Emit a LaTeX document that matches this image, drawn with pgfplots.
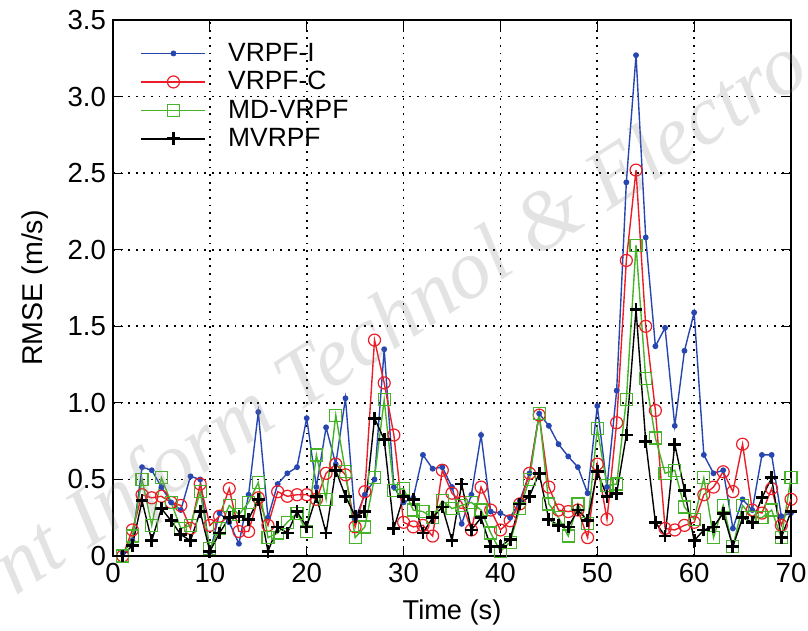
\documentclass[border=0pt]{standalone}
\usepackage{pgfplots}
\pgfplotsset{compat=1.18}
\usepackage{fontspec}
\setmainfont{Liberation Sans}
\newfontfamily\wmfont{Liberation Serif}
\definecolor{cblue}{RGB}{40,70,175}
\definecolor{cred}{RGB}{235,30,40}
\definecolor{cgreen}{RGB}{70,180,40}

\pgfplotstableread{
t blue red green black
1 0.02 0.00 0.00 0.00
2 0.10 0.17 0.13 0.07
3 0.58 0.40 0.50 0.36
4 0.56 0.38 0.20 0.10
5 0.45 0.39 0.51 0.31
6 0.35 0.35 0.35 0.23
7 0.30 0.33 0.18 0.14
8 0.52 0.18 0.20 0.10
9 0.50 0.47 0.42 0.29
10 0.02 0.20 0.05 0.03
11 0.28 0.26 0.18 0.15
12 0.22 0.44 0.33 0.25
13 0.08 0.16 0.27 0.26
14 0.40 0.16 0.35 0.24
15 0.94 0.38 0.48 0.37
16 0.25 0.20 0.12 0.03
17 0.47 0.42 0.15 0.19
18 0.54 0.39 0.22 0.15
19 0.58 0.40 0.28 0.29
20 0.90 0.40 0.16 0.19
21 0.45 0.37 0.66 0.39
22 0.84 0.54 0.37 0.15
23 0.60 0.60 0.92 0.56
24 1.03 0.53 0.55 0.39
25 0.24 0.19 0.12 0.26
26 0.40 0.42 0.19 0.29
27 0.50 1.41 0.51 0.90
28 1.35 1.13 1.02 0.76
29 0.45 0.79 0.43 0.18
30 0.35 0.22 0.44 0.39
31 0.38 0.19 0.30 0.37
32 0.66 0.20 0.29 0.15
33 0.57 0.13 0.25 0.25
34 0.58 0.56 0.36 0.32
35 0.45 0.41 0.31 0.10
36 0.21 0.35 0.33 0.47
37 0.40 0.17 0.35 0.17
38 0.79 0.45 0.30 0.25
39 0.29 0.30 0.15 0.06
40 0.28 0.17 0.03 0.06
41 0.25 0.23 0.09 0.11
42 0.36 0.34 0.31 0.34
43 0.54 0.54 0.50 0.39
44 0.93 0.92 0.93 0.54
45 0.85 0.45 0.34 0.24
46 0.73 0.30 0.25 0.20
47 0.65 0.29 0.13 0.19
48 0.58 0.30 0.34 0.30
49 0.41 0.12 0.21 0.23
50 0.98 0.60 0.83 0.55
51 0.45 0.24 0.46 0.39
52 1.08 0.87 0.47 0.41
53 2.44 1.93 1.02 0.79
54 3.27 2.52 2.03 1.61
55 2.08 1.50 1.16 0.75
56 1.37 0.95 0.77 0.22
57 1.49 0.18 0.54 0.13
58 0.85 0.17 0.56 0.73
59 1.34 0.20 0.32 0.43
60 1.59 0.22 0.24 0.10
61 0.66 0.40 0.51 0.17
62 0.54 0.45 0.12 0.19
63 0.56 0.55 0.33 0.28
64 0.18 0.42 0.06 0.06
65 0.37 0.73 0.33 0.25
66 0.30 0.30 0.25 0.22
67 0.66 0.28 0.25 0.38
68 0.66 0.44 0.30 0.51
69 0.26 0.20 0.12 0.12
70 0.28 0.37 0.51 0.29
}\rmse

\begin{document}
\begin{tikzpicture}
\begin{axis}[
    scale only axis,
    width=339pt, height=268pt,
    xmin=0, xmax=70, ymin=0, ymax=3.5,
    xtick={0,10,...,70},
    xticklabels={0,10,20,30,40,50,60,70},
    ytick={0,0.5,...,3.5},
    yticklabels={0,0.5,1.0,1.5,2.0,2.5,3.0,3.5},
    tick label style={font=\fontsize{13.8}{15}\selectfont},
    xlabel={Time (s)},
    ylabel={RMSE (m/s)},
    xlabel style={font=\fontsize{13.6}{15}\selectfont, at={(axis description cs:0.5,-0.1194)}, anchor=base},
    ylabel style={font=\fontsize{14.3}{15}\selectfont, at={(axis description cs:-0.1047,0.5)}, anchor=base},
    major tick length=5pt,
    tick style={black, line width=0.6pt},
    axis line style={line width=0.6pt},
    grid=major,
    grid style={black, line width=0.9pt, dash pattern=on 0.9pt off 2.9pt},
    legend style={at={(0.0315,0.973)}, anchor=north west, draw=none, fill=none,
        font=\fontsize{13.2}{14}\selectfont, row sep=-0.4pt, column sep=9pt},
    legend cell align=left,
    legend image code/.code={\draw[mark repeat=2,mark phase=2,#1]
        plot coordinates {(0pt,0pt) (16pt,0pt) (32pt,0pt)};},
]
\addplot[cblue, line width=0.7pt, mark=*, mark size=1.1pt] table[x=t,y=blue] {\rmse};
\addplot[cred, line width=0.7pt, mark=o, mark size=3pt, mark options={line width=0.6pt}] table[x=t,y=red] {\rmse};
\addplot[cgreen, line width=0.7pt, mark=square, mark size=3pt, mark options={line width=0.6pt}] table[x=t,y=green] {\rmse};
\addplot[black, line width=0.7pt, mark=+, mark size=3.2pt, mark options={line width=1.4pt}] table[x=t,y=black] {\rmse};
\legend{VRPF-I, VRPF-C, MD-VRPF, MVRPF}
\end{axis}
\node[rotate=33, text=gray, opacity=0.22, font=\wmfont\itshape\fontsize{42}{44}\selectfont]
    at ([shift={(145pt,118pt)}]current axis.south west) {nt Inform Technol \& Electro};
\pgfresetboundingbox
\useasboundingbox ([shift={(-56.5pt,-37.5pt)}]current axis.south west) rectangle ([shift={(8.5pt,10pt)}]current axis.north east);
\end{tikzpicture}
\end{document}
